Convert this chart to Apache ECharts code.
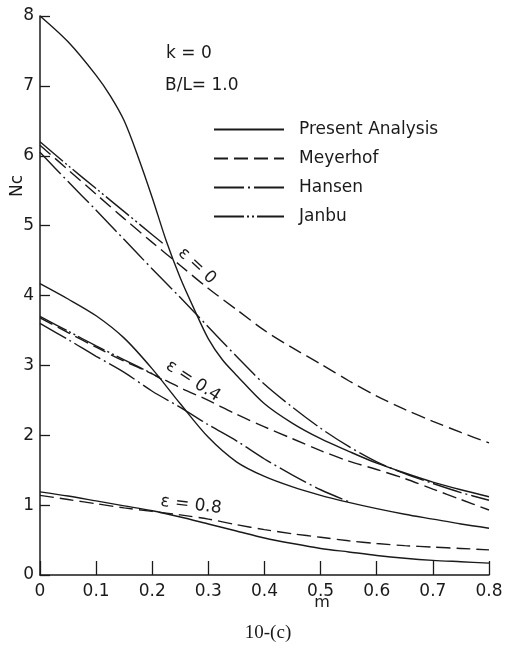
<!DOCTYPE html>
<html>
<head>
<meta charset="utf-8">
<script src="https://cdn.jsdelivr.net/npm/echarts@6/dist/echarts.min.js"></script>
<style>
  html, body { margin: 0; padding: 0; background: #fff; }
  #main { width: 507px; height: 653px; }
</style>
</head>
<body>
<div id="main"></div>
<script>
// m values shared by most curves
const mGrid = [0, 0.05, 0.1, 0.15, 0.2, 0.25, 0.3, 0.35, 0.4, 0.45, 0.5, 0.55, 0.6, 0.65, 0.7, 0.75, 0.8]

// epsilon = 0
const presentM0 = [0, 0.05, 0.1, 0.125, 0.15, 0.175, 0.2, 0.225, 0.25, 0.275, 0.3, 0.325, 0.35, 0.4, 0.45, 0.5, 0.55, 0.6, 0.65, 0.7, 0.75, 0.8]
const presentE0 = [8.0, 7.63, 7.15, 6.86, 6.5, 5.98, 5.4, 4.78, 4.25, 3.8, 3.38, 3.08, 2.86, 2.45, 2.17, 1.95, 1.77, 1.6, 1.46, 1.33, 1.22, 1.12]
const meyerhofE0 = [6.15, 5.8, 5.45, 5.1, 4.76, 4.43, 4.1, 3.8, 3.5, 3.25, 3.02, 2.78, 2.56, 2.37, 2.2, 2.04, 1.89]
const hansenE0 = [6.05, 5.63, 5.22, 4.8, 4.38, 3.97, 3.55, 3.13, 2.73, 2.4, 2.1, 1.84, 1.62, 1.45, 1.31, 1.18, 1.07]
const janbuM0 = [0, 0.05, 0.1, 0.15, 0.2, 0.223]
const janbuE0 = [6.2, 5.86, 5.53, 5.2, 4.87, 4.72]

// epsilon = 0.4
const presentE04 = [4.17, 3.95, 3.71, 3.39, 2.95, 2.45, 1.97, 1.62, 1.41, 1.26, 1.14, 1.04, 0.95, 0.87, 0.8, 0.73, 0.67]
const meyerhofE04 = [3.68, 3.47, 3.26, 3.06, 2.88, 2.68, 2.5, 2.3, 2.12, 1.95, 1.78, 1.63, 1.51, 1.38, 1.23, 1.08, 0.93]
const hansenM04 = [0, 0.05, 0.1, 0.15, 0.2, 0.25, 0.3, 0.35, 0.4, 0.45, 0.5, 0.55]
const hansenE04 = [3.6, 3.37, 3.13, 2.9, 2.63, 2.4, 2.15, 1.92, 1.66, 1.43, 1.22, 1.05]
const janbuM04 = [0, 0.05, 0.1, 0.15, 0.2, 0.217]
const janbuE04 = [3.7, 3.49, 3.28, 3.08, 2.88, 2.8]

// epsilon = 0.8
const presentE08 = [1.19, 1.13, 1.06, 0.99, 0.92, 0.83, 0.73, 0.63, 0.53, 0.45, 0.38, 0.33, 0.28, 0.24, 0.21, 0.19, 0.17]
const meyerhofE08 = [1.14, 1.08, 1.02, 0.96, 0.91, 0.86, 0.8, 0.72, 0.65, 0.59, 0.54, 0.49, 0.45, 0.42, 0.4, 0.38, 0.36]

const xTicks = ["0", "0.1", "0.2", "0.3", "0.4", "0.5", "0.6", "0.7", "0.8"]

const ink = "#1a1a1a"
const dashes = {
  "Present Analysis": "solid",
  Meyerhof: [14, 6],
  Hansen: [30, 4, 2, 4],
  Janbu: [30, 3, 2, 3, 2, 3],
}

function curve(name, xs, ys) {
  return {
    name: name,
    type: "line",
    symbol: "none",
    smooth: 0.3,
    silent: true,
    data: xs.map((x, i) => [x, ys[i]]),
    lineStyle: { color: ink, width: 1.4, type: dashes[name] },
    itemStyle: { color: ink },
  }
}

const sans = "DejaVu Sans"

let myChart = echarts.init(document.getElementById("main"))
myChart.setOption({
  animation: false,
  backgroundColor: "#fff",
  grid: { left: 40, top: 16, right: 18, bottom: 78 },
  legend: {
    orient: "vertical",
    left: 208,
    top: 116,
    itemWidth: 70,
    itemHeight: 14,
    itemGap: 12,
    data: ["Present Analysis", "Meyerhof", "Hansen", "Janbu"],
    itemStyle: { opacity: 0 },
    textStyle: { color: ink, fontSize: 17, fontFamily: sans, padding: [0, 0, 0, 10] },
    selectedMode: false,
  },
  xAxis: {
    type: "value",
    min: 0,
    max: 0.8,
    interval: 0.1,
    axisLine: { onZero: false, lineStyle: { color: ink, width: 1.5 } },
    axisTick: { inside: true, length: 14, lineStyle: { color: ink, width: 1.3 } },
    axisLabel: {
      color: ink,
      fontSize: 17,
      fontFamily: sans,
      margin: 8,
      formatter: (v) => xTicks[Math.round(v * 10)],
    },
    splitLine: { show: false },
  },
  yAxis: {
    type: "value",
    min: 0,
    max: 8,
    interval: 1,
    axisLine: { show: true, lineStyle: { color: ink, width: 1.5 } },
    axisTick: { show: true, inside: true, length: 10, lineStyle: { color: ink, width: 1.3 } },
    axisLabel: { color: ink, fontSize: 17, fontFamily: sans, margin: 6 },
    splitLine: { show: false },
  },
  series: [
    curve("Present Analysis", presentM0, presentE0),
    curve("Meyerhof", mGrid, meyerhofE0),
    curve("Hansen", mGrid, hansenE0),
    curve("Janbu", janbuM0, janbuE0),
    curve("Present Analysis", mGrid, presentE04),
    curve("Meyerhof", mGrid, meyerhofE04),
    curve("Hansen", hansenM04, hansenE04),
    curve("Janbu", janbuM04, janbuE04),
    curve("Present Analysis", mGrid, presentE08),
    curve("Meyerhof", mGrid, meyerhofE08),
  ],
  graphic: [
    { type: "text", left: 166, top: 45, style: { text: "k = 0", fill: ink, font: "17px " + sans } },
    { type: "text", left: 165, top: 77, style: { text: "B/L= 1.0", fill: ink, font: "17px " + sans } },
    {
      type: "text", x: 18, y: 186, rotation: Math.PI / 2,
      style: { text: "Nc", fill: ink, font: "17px " + sans, align: "center", verticalAlign: "middle" },
    },
    {
      type: "text", x: 197, y: 266, rotation: -Math.PI / 4.2,
      style: { text: "ε = 0", fill: ink, font: "17px " + sans, align: "center", verticalAlign: "middle" },
    },
    {
      type: "text", x: 193, y: 381, rotation: -0.58,
      style: { text: "ε = 0.4", fill: ink, font: "17px " + sans, align: "center", verticalAlign: "middle" },
    },
    {
      type: "text", x: 191, y: 505, rotation: -0.12,
      style: { text: "ε = 0.8", fill: ink, font: "17px " + sans, align: "center", verticalAlign: "middle" },
    },
    {
      type: "text", x: 322, y: 603,
      style: { text: "m", fill: ink, font: "16px " + sans, align: "center", verticalAlign: "middle" },
    },
    {
      type: "text", x: 268, y: 633,
      style: { text: "10-(c)", fill: ink, font: "19px 'Liberation Serif'", align: "center", verticalAlign: "middle" },
    },
  ],
})

window.addEventListener("resize", () => {
  myChart.resize()
})
</script>
</body>
</html>
